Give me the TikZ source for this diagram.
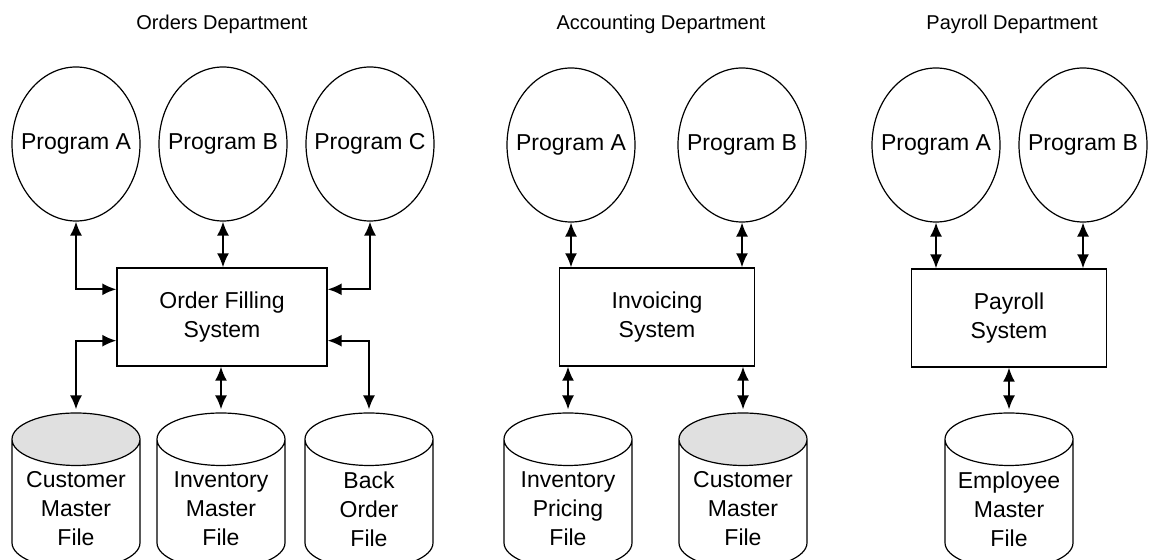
\documentclass[tikz,border=0pt]{standalone}
\usepackage{fontspec}
\setmainfont{Liberation Sans}
\usetikzlibrary{shapes.geometric,arrows.meta,positioning}

\tikzset{
  txt/.style={font=\fontsize{11.5}{14.5}\selectfont},
  prog/.style={draw,ellipse,line width=0.6pt,minimum width=64pt,minimum height=77pt,
    inner sep=0pt,label={[txt]center:#1}},
  sysbox/.style={txt,draw,rectangle,line width=0.7pt,minimum width=97.5pt,minimum height=49pt,align=center},
  file/.style={draw,cylinder,shape border rotate=90,aspect=0.41,line width=0.6pt,
    text width=60pt,inner sep=2pt,minimum height=78pt,anchor=shape center},
  filetxt/.style={txt,align=center,inner sep=0pt},
  shaded/.style={cylinder uses custom fill,cylinder end fill=black!12,cylinder body fill=white},
  dept/.style={font=\fontsize{10}{12}\selectfont},
  link/.style={line width=0.9pt,{Latex[length=7pt,width=6pt]}-{Latex[length=7pt,width=6pt]}},
}

\begin{document}
\begin{tikzpicture}[x=0.5pt,y=-0.5pt]
  \useasboundingbox (0,0) rectangle (1149,560);

  % department titles
  \node[dept] (ordT) at (222,24) {Orders Department};
  \node[dept] (accT) at (661,24) {Accounting Department};
  \node[dept] (payT) at (1012,24) {Payroll Department};

  % programs
  \node[prog=Program A] (ordA) at (76,144)   {};
  \node[prog=Program B] (ordB) at (223,144)  {};
  \node[prog=Program C] (ordC) at (370,144)  {};
  \node[prog=Program A] (accA) at (571,145)  {};
  \node[prog=Program B] (accB) at (742,145)  {};
  \node[prog=Program A] (payA) at (936,145)  {};
  \node[prog=Program B] (payB) at (1083,145) {};

  % systems
  \node[sysbox,minimum width=105pt] (ordSys) at (222,317) {Order Filling\\System};
  \node[sysbox] (accSys) at (657,317)  {Invoicing\\System};
  \node[sysbox] (paySys) at (1009,318) {Payroll\\System};

  % files
  \node[file,shaded] (ordCust) at (76,491)  {};
  \node[file]        (ordInv)  at (221,491) {};
  \node[file]        (ordBack) at (369,491) {};
  \node[file]        (accInv)  at (568,491) {};
  \node[file,shaded] (accCust) at (743,491) {};
  \node[file]        (payEmp)  at (1009,491) {};
  \node[filetxt] (ordCustT) at ([yshift=-9pt]ordCust.shape center) {Customer\\Master\\File};
  \node[filetxt] (ordInvT)  at ([yshift=-9pt]ordInv.shape center)  {Inventory\\Master\\File};
  \node[filetxt] (ordBackT) at ([yshift=-9pt]ordBack.shape center) {Back\\Order\\File};
  \node[filetxt] (accInvT)  at ([yshift=-9pt]accInv.shape center)  {Inventory\\Pricing\\File};
  \node[filetxt] (accCustT) at ([yshift=-9pt]accCust.shape center) {Customer\\Master\\File};
  \node[filetxt] (payEmpT)  at ([yshift=-9pt]payEmp.shape center)  {Employee\\Master\\File};

  % side entry points of the order box
  \coordinate (ordWhi) at ([yshift=-11pt]ordSys.north west);
  \coordinate (ordEhi) at ([yshift=-11pt]ordSys.north east);
  \coordinate (ordWlo) at ([yshift=13pt]ordSys.south west);
  \coordinate (ordElo) at ([yshift=13pt]ordSys.south east);

  % orders department
  \draw[link] (ordA.south) |- (ordWhi);
  \draw[link] (ordB.south) -- (ordB.south |- ordSys.north);
  \draw[link] (ordC.south) |- (ordEhi);
  \draw[link] (ordWlo) -| ([yshift=1.5pt]ordCust.north);
  \draw[link] (ordSys.south -| ordInv.north) -- ([yshift=1.5pt]ordInv.north);
  \draw[link] (ordElo) -| ([yshift=1.5pt]ordBack.north);

  % accounting department
  \draw[link] (accA.south) -- (accA.south |- accSys.north);
  \draw[link] (accB.south) -- (accB.south |- accSys.north);
  \draw[link] (accSys.south -| accInv.north) -- ([yshift=1.5pt]accInv.north);
  \draw[link] (accSys.south -| accCust.north) -- ([yshift=1.5pt]accCust.north);

  % payroll department
  \draw[link] (payA.south) -- (payA.south |- paySys.north);
  \draw[link] (payB.south) -- (payB.south |- paySys.north);
  \draw[link] (paySys.south) -- ([yshift=1.5pt]payEmp.north);
\end{tikzpicture}
\end{document}
